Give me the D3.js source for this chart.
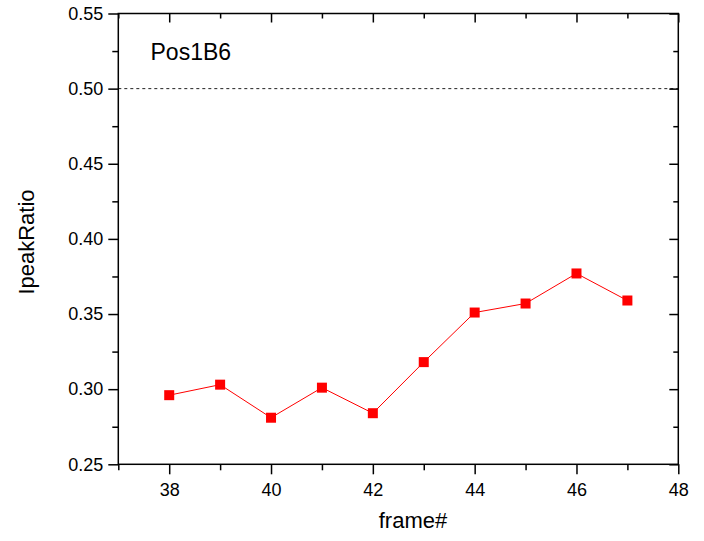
<!DOCTYPE html>
<html><head><meta charset="utf-8">
<script src="https://cdn.jsdelivr.net/npm/d3@7"></script>
<style>body{margin:0;background:#fff}svg{display:block}text{font-family:"Liberation Sans",Arial,sans-serif;fill:#000}</style>
</head><body>
<svg id="c" width="704" height="541"></svg>
<script>
const frames = [38, 39, 40, 41, 42, 43, 44, 45, 46, 47];
const ratios = [0.296, 0.303, 0.281, 0.301, 0.284, 0.318, 0.351, 0.357, 0.377, 0.359];
const xTicks = [38, 40, 42, 44, 46, 48];
const xMinor = [37, 39, 41, 43, 45, 47];
const yTicks = [0.25, 0.30, 0.35, 0.40, 0.45, 0.50, 0.55];
const yMinor = [0.275, 0.325, 0.375, 0.425, 0.475, 0.525];
const refLine = 0.5;
const label = "Pos1B6";

const svg = d3.select("#c");
const L = 118.3, R = 678.3, T = 13.5, B = 464.3;
const x = d3.scaleLinear().domain([37, 48]).range([L, R]);
const y = d3.scaleLinear().domain([0.25, 0.55]).range([B, T]);

// dashed reference line
svg.append("line").attr("x1", L).attr("x2", R).attr("y1", y(refLine)).attr("y2", y(refLine))
  .attr("stroke", "#222").attr("stroke-width", 1).attr("stroke-dasharray", "3,3");

// frame
svg.append("rect").attr("x", L).attr("y", T).attr("width", R - L).attr("height", B - T)
  .attr("fill", "none").attr("stroke", "#000").attr("stroke-width", 1.5);

const fmt = d3.format(".2f");
// bottom axis
const gb = svg.append("g").attr("transform", `translate(0,${B})`)
  .call(d3.axisBottom(x).tickValues(xTicks).tickSize(10).tickPadding(9).tickFormat(d3.format("d")));
svg.append("g").attr("transform", `translate(0,${B})`)
  .call(d3.axisBottom(x).tickValues(xMinor).tickSize(6).tickFormat(""));
// top axis (inward)
svg.append("g").attr("transform", `translate(0,${T})`)
  .call(d3.axisTop(x).tickValues(xTicks).tickSize(-9).tickFormat(""));
svg.append("g").attr("transform", `translate(0,${T})`)
  .call(d3.axisTop(x).tickValues(xMinor).tickSize(-5).tickFormat(""));
// left axis
svg.append("g").attr("transform", `translate(${L},0)`)
  .call(d3.axisLeft(y).tickValues(yTicks).tickSize(10).tickPadding(5).tickFormat(fmt));
svg.append("g").attr("transform", `translate(${L},0)`)
  .call(d3.axisLeft(y).tickValues(yMinor).tickSize(6).tickFormat(""));
// right axis (inward)
svg.append("g").attr("transform", `translate(${R},0)`)
  .call(d3.axisRight(y).tickValues(yTicks).tickSize(-9).tickFormat(""));
svg.append("g").attr("transform", `translate(${R},0)`)
  .call(d3.axisRight(y).tickValues(yMinor).tickSize(-5).tickFormat(""));

svg.selectAll(".domain").remove();
svg.selectAll(".tick line").attr("stroke", "#000").attr("stroke-width", 1.5);
svg.selectAll(".tick text").style("font-size", "18px").attr("fill", "#000")
  .style("font-family", '"Liberation Sans",Arial,sans-serif');

// data line
svg.append("path").datum(frames.map((f, i) => [f, ratios[i]]))
  .attr("fill", "none").attr("stroke", "#ff0000").attr("stroke-width", 1)
  .attr("d", d3.line().x(d => x(d[0])).y(d => y(d[1])));
const ms = 10;
svg.selectAll("rect.pt").data(frames.map((f, i) => [f, ratios[i]])).enter().append("rect")
  .attr("class", "pt").attr("x", d => x(d[0]) - ms / 2).attr("y", d => y(d[1]) - ms / 2)
  .attr("width", ms).attr("height", ms).attr("fill", "#ff0000");

// titles
svg.append("text").attr("x", 150.5).attr("y", 60).style("font-size", "23px").text(label);
svg.append("text").attr("x", 413).attr("y", 528).attr("text-anchor", "middle").style("font-size", "22px").text("frame#");
svg.append("text").attr("transform", "translate(34,242) rotate(-90)").attr("text-anchor", "middle")
  .style("font-size", "22px").text("IpeakRatio");
</script>
</body></html>
